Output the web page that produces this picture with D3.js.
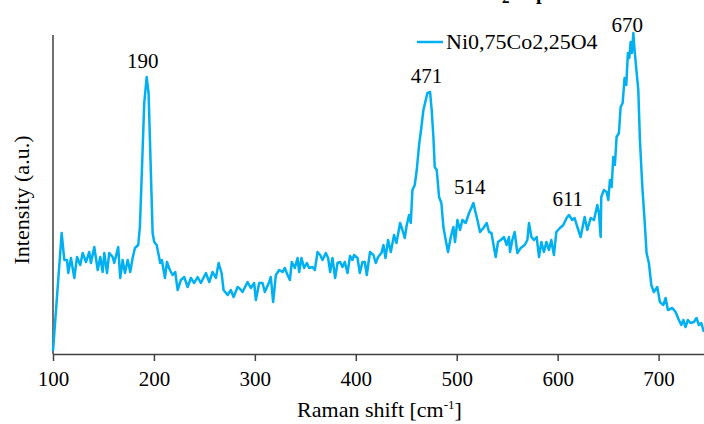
<!DOCTYPE html>
<html>
<head>
<meta charset="utf-8">
<script src="https://cdn.jsdelivr.net/npm/d3@7"></script>
<style>
  body { margin: 0; background: #fff; }
  svg text { font-family: "Liberation Serif", "Times New Roman", Times, "DejaVu Serif", serif; fill: #000; }
</style>
</head>
<body>
<div id="chart"></div>
<script>
// Raman spectrum data
var seriesName = "Ni0,75Co2,25O4";

var ramanShift = [100, 108.6, 111.2, 113.9, 115.1, 117.8, 121.1, 123.8, 127.0, 129.4,
  132.7, 135.9, 137.6, 140.9, 144.3, 146.8, 149.2, 150.8, 153.5, 155.7,
  159.1, 160.7, 164.6, 166.6, 169.0, 171.3, 174.0, 176.5, 178.9, 181.2,
  184.4, 186.1, 188.1, 190.4, 192.8, 194.7, 197.0, 198.7, 200.3, 202.7,
  204.3, 206.2, 207.9, 210.9, 212.9, 215.8, 218.5, 221.1, 223.5, 226.7,
  230.0, 233.4, 236.6, 239.9, 243.3, 246.5, 251.5, 254.8, 258.1, 261.4,
  264.1, 267.0, 269.0, 273.0, 276.2, 278.9, 282.9, 284.5, 287.8, 292.8,
  296.0, 299.3, 301.0, 304.3, 307.6, 309.9, 314.2, 315.8, 318.1, 320.8,
  324.1, 327.4, 329.7, 332.4, 334.7, 336.6, 339.6, 342.3, 343.9, 346.2,
  348.8, 351.5, 353.8, 357.1, 359.4, 362.1, 364.7, 367.0, 370.3, 372.6,
  374.6, 376.9, 379.5, 381.9, 384.5, 386.8, 389.1, 391.8, 394.3, 396.7,
  398.3, 401.7, 404.0, 406.6, 408.9, 410.9, 414.1, 417.5, 419.8, 422.1,
  425.4, 427.4, 429.4, 432.0, 434.7, 437.9, 440.3, 443.9, 446.2, 448.5,
  450.5, 452.8, 454.5, 456.1, 458.4, 460.4, 462.7, 464.4, 467.0, 469.3,
  471.0, 473.6, 475.2, 476.9, 478.2, 480.2, 482.5, 484.8, 486.8, 489.1,
  491.4, 494.1, 496.7, 498.3, 500.7, 503.3, 505.6, 508.9, 512.2, 514.9,
  516.5, 518.8, 520.5, 523.1, 526.4, 529.7, 532.0, 534.4, 537.0, 538.6,
  540.9, 543.6, 546.8, 549.5, 551.8, 552.8, 555.1, 557.4, 560.1, 563.4,
  567.3, 570.0, 571.6, 574.0, 576.5, 579.2, 581.5, 583.9, 586.4, 588.8,
  591.4, 593.7, 596.3, 598.7, 602.3, 605.6, 608.9, 611.2, 614.5, 616.8,
  619.5, 622.8, 626.7, 629.4, 632.7, 636.0, 639.3, 640.9, 642.6, 643.2,
  645.8, 648.5, 650.2, 651.8, 653.5, 655.1, 656.7, 658.4, 660.7, 662.4,
  664.4, 666.3, 668.0, 669.6, 671.0, 672.3, 673.6, 675.0, 676.2, 678.2,
  679.9, 681.5, 683.9, 686.1, 688.1, 690.4, 692.8, 695.3, 698.7, 701.3,
  704.7, 707.0, 709.2, 713.6, 716.8, 720.1, 722.5, 724.5, 726.7, 729.0,
  731.7, 735.0, 737.6, 739.9, 742.3, 744.9];

var intensity = [-2, 116, 89, 89, 76, 91, 71, 92, 84, 96,
  87, 97, 86, 102, 79, 92, 77, 96, 76, 96,
  92, 86, 102, 71, 89, 76, 89, 77, 91, 101,
  104, 122, 179, 246, 272, 256, 176, 116, 107, 104,
  96, 86, 89, 71, 87, 79, 74, 77, 59, 69,
  72, 62, 71, 66, 72, 66, 76, 67, 77, 71,
  86, 76, 59, 54, 59, 52, 62, 61, 57, 67,
  61, 66, 49, 66, 66, 57, 67, 72, 47, 74,
  79, 77, 81, 74, 69, 87, 81, 91, 77, 91,
  81, 86, 81, 82, 79, 97, 94, 89, 96, 91,
  77, 91, 71, 86, 87, 82, 87, 76, 93, 89,
  94, 91, 76, 87, 87, 74, 97, 94, 86, 92,
  96, 104, 91, 109, 97, 114, 106, 126, 119, 111,
  124, 134, 126, 159, 164, 179, 204, 217, 239, 249,
  256, 257, 239, 212, 182, 179, 152, 146, 122, 109,
  97, 112, 122, 107, 129, 119, 129, 126, 136, 142,
  146, 136, 129, 117, 121, 126, 117, 116, 101, 92,
  107, 109, 112, 104, 112, 97, 109, 117, 96, 101,
  104, 109, 126, 112, 109, 112, 92, 107, 97, 107,
  99, 109, 94, 117, 121, 124, 131, 134, 129, 131,
  122, 112, 132, 119, 131, 129, 144, 136, 112, 152,
  159, 157, 149, 169, 162, 192, 184, 212, 216, 242,
  246, 271, 264, 296, 291, 307, 296, 316, 299, 277,
  259, 209, 162, 129, 96, 86, 64, 57, 62, 47,
  44, 51, 39, 41, 37, 29, 24, 29, 22, 29,
  26, 27, 31, 24, 26, 17];

// peak positions that get a label
var peaks = [190, 471, 514, 611, 670];

var xTicks = [100, 200, 300, 400, 500, 600, 700];

var svgWidth = 704;
var svgHeight = 424;

var margin = { top: 35, right: 0, bottom: 70, left: 53 };
var width = svgWidth - margin.left - margin.right;
var height = svgHeight - margin.top - margin.bottom;

var svg = d3.select("#chart")
  .append("svg")
  .attr("width", svgWidth)
  .attr("height", svgHeight);

var chartGroup = svg.append("g")
  .attr("transform", `translate(${margin.left}, ${margin.top})`);

var data = d3.zip(ramanShift, intensity);

var xScale = d3.scaleLinear()
  .domain([100, 745])
  .range([0, width]);

var yScale = d3.scaleLinear()
  .domain([-5, 314])
  .range([height, 0]);

// x axis
var bottomAxis = d3.axisBottom(xScale)
  .tickValues(xTicks)
  .tickSize(7)
  .tickSizeOuter(0)
  .tickPadding(10);

var xAxis = chartGroup.append("g")
  .attr("transform", `translate(0, ${height})`)
  .call(bottomAxis);

xAxis.select(".domain").attr("stroke", "#404040").attr("stroke-width", 1.5);
xAxis.selectAll(".tick line").attr("stroke", "#404040").attr("stroke-width", 1.5);
xAxis.selectAll(".tick text")
  .attr("font-size", "21px")
  .attr("fill", "#000");

// y axis is a bare line, no ticks
chartGroup.append("line")
  .attr("x1", 0)
  .attr("x2", 0)
  .attr("y1", 0)
  .attr("y2", height)
  .attr("stroke", "#404040")
  .attr("stroke-width", 1.5);

// spectrum line
var line = d3.line()
  .x(d => xScale(d[0]))
  .y(d => yScale(d[1]));

chartGroup.append("path")
  .datum(data)
  .attr("fill", "none")
  .attr("stroke", "#00b0f0")
  .attr("stroke-width", 2.5)
  .attr("stroke-linejoin", "round")
  .attr("d", line);

// peak labels, placed just above the local maximum
peaks.forEach(function(p) {
  var near = data.filter(d => Math.abs(d[0] - p) < 7);
  var top = d3.max(near, d => d[1]);
  var ty = Math.max(yScale(top + 9), -3);
  chartGroup.append("text")
    .attr("x", xScale(p) - 1)
    .attr("y", ty)
    .attr("text-anchor", "middle")
    .attr("font-size", "21px")
    .text(p);
});

// axis titles
var xTitle = svg.append("text")
  .attr("x", margin.left + width / 2 + 1)
  .attr("y", 417)
  .attr("text-anchor", "middle")
  .attr("font-size", "22px");

xTitle.append("tspan").text("Raman shift [cm");
xTitle.append("tspan")
  .attr("dy", -8)
  .attr("font-size", "13px")
  .text("-1");
xTitle.append("tspan")
  .attr("dy", 8)
  .text("]");

svg.append("text")
  .attr("transform", "rotate(-90)")
  .attr("x", -200)
  .attr("y", 29)
  .attr("text-anchor", "middle")
  .attr("font-size", "22px")
  .text("Intensity (a.u.)");

// legend
var legend = svg.append("g")
  .attr("transform", "translate(417, 42)");

legend.append("line")
  .attr("x1", 0)
  .attr("x2", 26)
  .attr("stroke", "#00b0f0")
  .attr("stroke-width", 2.5);

legend.append("text")
  .attr("x", 29)
  .attr("y", 7)
  .attr("font-size", "22px")
  .text(seriesName);

// bits of a cut off title at the very top
svg.append("text")
  .attr("x", 502)
  .attr("y", 3)
  .attr("font-size", "15px")
  .attr("font-weight", "bold")
  .text("2");

svg.append("text")
  .attr("x", 536)
  .attr("y", -1)
  .attr("font-size", "20px")
  .attr("font-weight", "bold")
  .text("p");
</script>
</body>
</html>
